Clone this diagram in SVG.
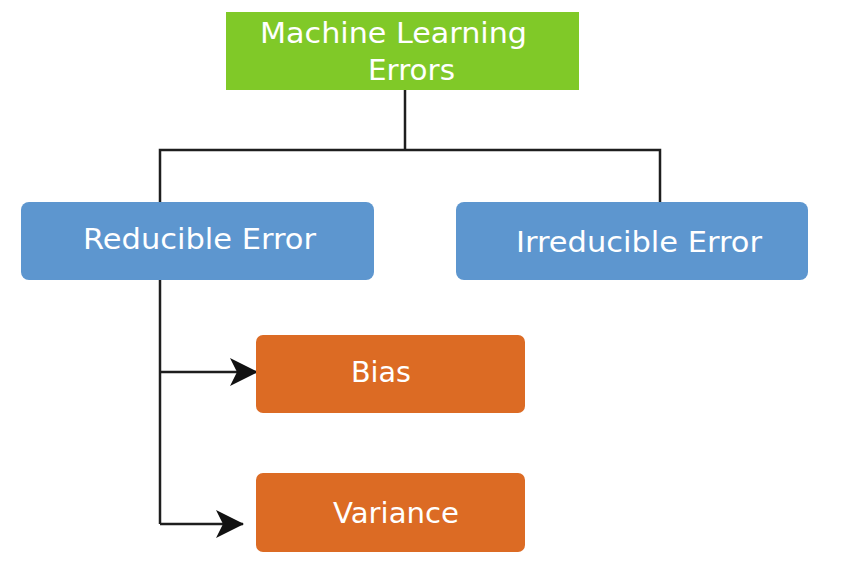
<svg xmlns="http://www.w3.org/2000/svg" width="853" height="565" viewBox="0 0 853 565">
<style>
.lbl{font-family:"DejaVu Sans","Liberation Sans",sans-serif;font-size:29px;fill:#ffffff}
.conn{fill:none;stroke:#1e1e1e;stroke-width:2.5}
</style>
<defs>
<marker id="arr" markerUnits="userSpaceOnUse" markerWidth="28" markerHeight="30" viewBox="0 0 28 30" refX="27" refY="15" orient="auto">
<path d="M0,1 L28,15 L0,29 L7,15 Z" fill="#111"/>
</marker>
</defs>
<rect width="853" height="565" fill="#ffffff"/>
<g id="connectors">
<path class="conn" d="M405,90 V150"/>
<path class="conn" d="M160,203 V150 H660 V203"/>
<path class="conn" d="M160,280 V524"/>
<path class="conn" d="M160,372 H257" marker-end="url(#arr)"/>
<path class="conn" d="M160,524 H243" marker-end="url(#arr)"/>
</g>
<g id="node-ml-errors">
<rect x="226" y="12" width="353" height="78" fill="#80c928"/>
<text class="lbl" x="260" y="43" textLength="267" lengthAdjust="spacingAndGlyphs">Machine Learning</text>
<text class="lbl" x="368" y="80" textLength="87" lengthAdjust="spacingAndGlyphs">Errors</text>
</g>
<g id="node-reducible">
<rect x="21" y="202" width="353" height="78" rx="8" fill="#5d96cf"/>
<text class="lbl" x="83" y="249" textLength="233" lengthAdjust="spacingAndGlyphs">Reducible Error</text>
</g>
<g id="node-irreducible">
<rect x="456" y="202" width="352" height="78" rx="8" fill="#5d96cf"/>
<text class="lbl" x="516" y="252" textLength="246" lengthAdjust="spacingAndGlyphs">Irreducible Error</text>
</g>
<g id="node-bias">
<rect x="256" y="335" width="269" height="78" rx="7" fill="#dc6b24"/>
<text class="lbl" x="351" y="382" textLength="60" lengthAdjust="spacingAndGlyphs">Bias</text>
</g>
<g id="node-variance">
<rect x="256" y="473" width="269" height="79" rx="7" fill="#dc6b24"/>
<text class="lbl" x="333" y="523" textLength="126" lengthAdjust="spacingAndGlyphs">Variance</text>
</g>
</svg>
